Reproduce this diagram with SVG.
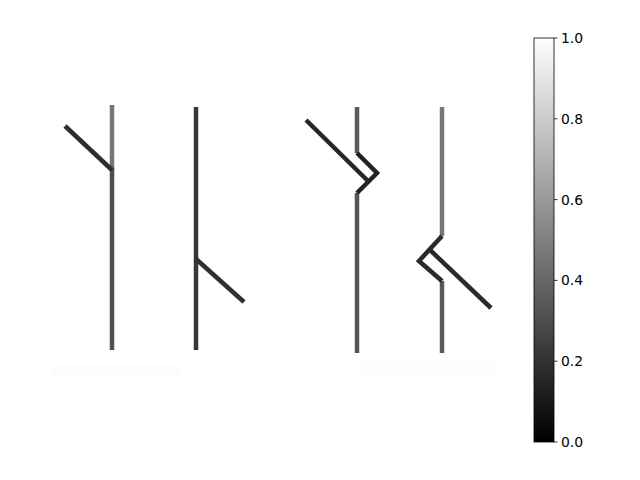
<svg xmlns="http://www.w3.org/2000/svg" width="640" height="480" viewBox="0 0 640 480">
<style>
.ln{fill:none;stroke-linecap:butt;stroke-linejoin:miter;stroke-width:4.5}
.tk{font-family:"DejaVu Sans",sans-serif;font-size:13.9px;fill:#000}
</style>
<defs>
<linearGradient id="cb" x1="0" y1="1" x2="0" y2="0">
<stop offset="0" stop-color="#000"/>
<stop offset="1" stop-color="#fff"/>
</linearGradient>
</defs>
<rect width="640" height="480" fill="#fff"/>
<g id="image">
<rect x="52" y="366" width="130" height="10" fill="#fcfcfc"/>
<rect x="360" y="362" width="140" height="12" fill="#fdfdfd"/>
<g id="fig1">
<line class="ln" x1="112" y1="105" x2="112" y2="170" stroke="#777"/>
<line class="ln" x1="112" y1="168" x2="112" y2="350" stroke="#4f4f4f"/>
<line class="ln" x1="65" y1="126" x2="112" y2="170" stroke="#2e2e2e"/>
</g>
<g id="fig2">
<line class="ln" x1="196" y1="107" x2="196" y2="350" stroke="#363636"/>
<line class="ln" x1="196" y1="259" x2="244" y2="302" stroke="#303030"/>
</g>
<g id="fig3">
<line class="ln" x1="357" y1="107" x2="357" y2="153" stroke="#5a5a5a"/>
<line class="ln" x1="357" y1="193" x2="357" y2="353" stroke="#555"/>
<polyline class="ln" points="357,153 377,173 357,193" stroke="#222"/>
<line class="ln" x1="306" y1="120" x2="368" y2="181" stroke="#262626"/>
</g>
<g id="fig4">
<line class="ln" x1="442" y1="107" x2="442" y2="236" stroke="#777"/>
<line class="ln" x1="442" y1="281" x2="442" y2="353" stroke="#595959"/>
<polyline class="ln" points="442,236 419,261 442,281" stroke="#2a2a2a"/>
<line class="ln" x1="430" y1="250" x2="491" y2="308" stroke="#2a2a2a"/>
</g>
</g>
<g id="colorbar">
<rect x="534" y="38" width="20" height="404" fill="url(#cb)" stroke="#000" stroke-width="0.8"/>
<g stroke="#000" stroke-width="0.8">
<line x1="554" y1="38" x2="557.5" y2="38"/>
<line x1="554" y1="118.8" x2="557.5" y2="118.8"/>
<line x1="554" y1="199.6" x2="557.5" y2="199.6"/>
<line x1="554" y1="280.4" x2="557.5" y2="280.4"/>
<line x1="554" y1="361.2" x2="557.5" y2="361.2"/>
<line x1="554" y1="442" x2="557.5" y2="442"/>
</g>
<text class="tk" x="561" y="43">1.0</text>
<text class="tk" x="561" y="124">0.8</text>
<text class="tk" x="561" y="204.6">0.6</text>
<text class="tk" x="561" y="285.4">0.4</text>
<text class="tk" x="561" y="366.2">0.2</text>
<text class="tk" x="561" y="447">0.0</text>
</g>
</svg>
